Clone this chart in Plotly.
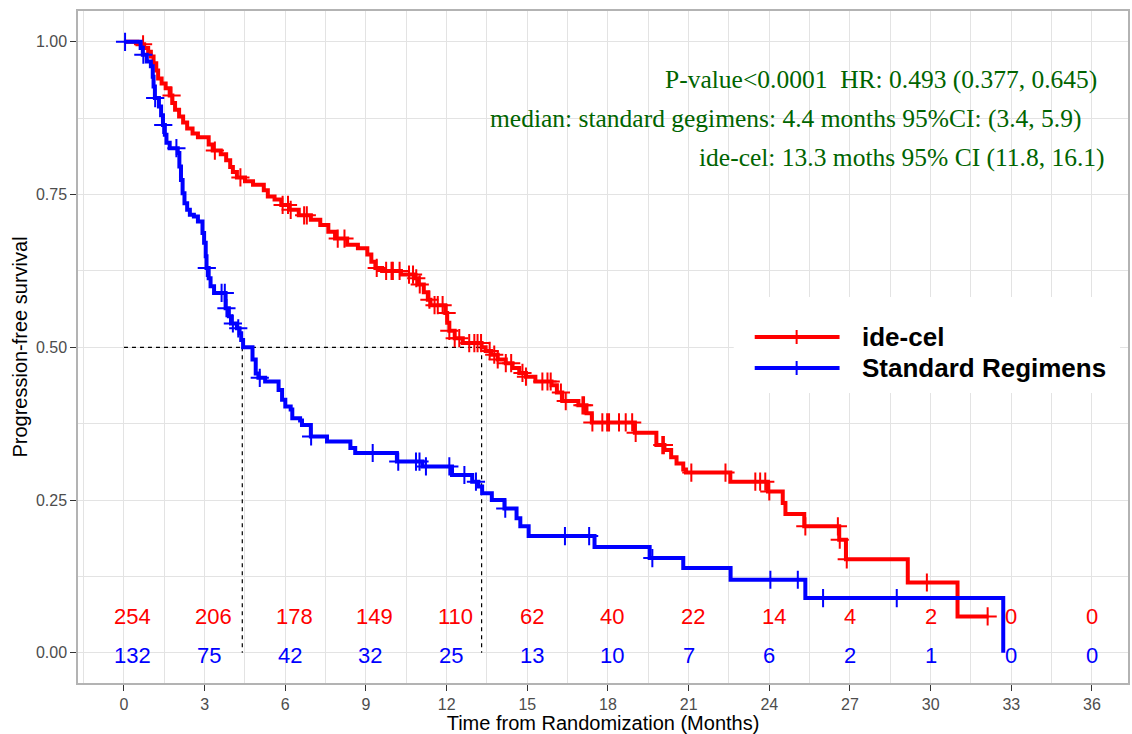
import numpy as np
import plotly.graph_objects as go

W, H = 1132, 734
ML, MR, MT, MB = 78, 2, 11, 51
X_RANGE = [-1.71, 37.34]
Y_RANGE = [-0.0495, 1.0505]

# ---------------- data ----------------
ide_time = [0, 0.5, 0.75, 0.9, 1.0, 1.1, 1.2, 1.27, 1.4, 1.55, 1.7, 1.8, 1.9, 2.05, 2.2, 2.35,
            2.55, 2.75, 3.15, 3.3, 3.6, 3.8, 3.95, 4.05, 4.2, 4.5, 4.8, 5.2, 5.35, 5.6, 5.85,
            6.15, 6.5, 6.95, 7.3, 7.6, 7.85, 8.3, 8.7, 9.05, 9.2, 9.35, 9.6, 10.3, 10.8, 10.95,
            11.15, 11.3, 11.4, 11.95, 12.02, 12.1, 12.3, 12.6, 13.3, 13.45, 13.65, 13.9, 14.2,
            14.45, 14.7, 14.95, 15.3, 15.9, 16.1, 16.3, 16.9, 17.2, 17.4, 19.0, 19.8, 20.1,
            20.35, 20.55, 20.8, 20.9, 22.55, 23.95, 24.5, 24.6, 25.3, 26.6, 26.85, 29.15,
            31.0, 32.15]
ide_surv = [1.0, 0.996, 0.99, 0.984, 0.976, 0.965, 0.953, 0.94, 0.932, 0.924, 0.912, 0.9, 0.889,
            0.878, 0.868, 0.858, 0.85, 0.844, 0.832, 0.822, 0.816, 0.806, 0.795, 0.787, 0.778,
            0.772, 0.766, 0.757, 0.747, 0.742, 0.733, 0.725, 0.716, 0.709, 0.7, 0.689, 0.678,
            0.668, 0.662, 0.652, 0.64, 0.63, 0.625, 0.619, 0.613, 0.603, 0.59, 0.578, 0.569,
            0.556, 0.54, 0.527, 0.515, 0.507, 0.5, 0.494, 0.488, 0.48, 0.474, 0.466, 0.458,
            0.452, 0.444, 0.438, 0.426, 0.412, 0.405, 0.392, 0.377, 0.36, 0.34, 0.332, 0.32,
            0.31, 0.3, 0.295, 0.28, 0.264, 0.245, 0.227, 0.207, 0.185, 0.153, 0.115, 0.0594,
            0.0594]
ide_cens = [0.71, 1.77, 3.38, 4.33, 5.9, 6.1, 6.2, 6.7, 6.8, 7.95, 8.2, 9.4, 9.75, 9.95, 10.0,
            10.25, 10.6, 10.75, 10.87, 11.0, 11.36, 11.55, 11.67, 11.85, 12.0, 12.1, 12.3, 12.47,
            12.84, 13.03, 13.15, 13.28, 13.6, 13.77, 13.9, 14.2, 14.4, 14.82, 14.95, 15.56,
            15.75, 15.87, 16.25, 16.43, 17.05, 17.11, 17.42, 17.79, 17.97, 18.04, 18.41, 18.66,
            18.9, 19.03, 20.02, 20.08, 21.1, 22.37, 23.48, 23.66, 23.85, 24.0, 25.34, 26.55,
            26.62, 26.88, 29.86, 32.12]

std_time = [0, 0.62, 0.7, 0.85, 1.0, 1.07, 1.1, 1.15, 1.3, 1.38, 1.45, 1.52, 1.58, 1.7, 2.0,
            2.06, 2.12, 2.18, 2.25, 2.35, 2.45, 2.6, 2.75, 2.92, 2.98, 3.04, 3.07, 3.15, 3.22,
            3.35, 3.78, 3.9, 3.98, 4.2, 4.3, 4.36, 4.43, 4.78, 4.9, 5.0, 5.25, 5.75, 5.88, 6.0,
            6.2, 6.26, 6.55, 6.62, 6.95, 7.55, 8.42, 8.6, 10.15, 11.1, 12.2, 12.95, 13.18,
            13.32, 13.68, 14.15, 14.6, 14.74, 15.05, 17.5, 19.55, 20.8, 22.56, 25.34, 32.7]
std_surv = [1.0, 0.99, 0.979, 0.968, 0.96, 0.943, 0.927, 0.908, 0.894, 0.88, 0.864, 0.848, 0.835,
            0.826, 0.818, 0.796, 0.774, 0.752, 0.736, 0.725, 0.717, 0.714, 0.706, 0.687, 0.671,
            0.649, 0.63, 0.613, 0.6, 0.589, 0.564, 0.551, 0.539, 0.531, 0.523, 0.512, 0.5, 0.48,
            0.457, 0.45, 0.444, 0.43, 0.414, 0.403, 0.398, 0.384, 0.38, 0.373, 0.354, 0.346,
            0.335, 0.327, 0.313, 0.305, 0.291, 0.28, 0.272, 0.261, 0.25, 0.236, 0.22, 0.207,
            0.191, 0.173, 0.155, 0.1386, 0.1195, 0.0895, 0.0]
std_cens = [0.04, 0.72, 1.16, 1.46, 1.95, 3.08, 3.63, 3.75, 3.81, 4.05, 4.25, 5.05, 6.96, 9.25,
            10.2, 10.86, 10.99, 11.23, 12.1, 12.66, 13.09, 14.18, 16.4, 17.3, 19.65, 24.04,
            25.06, 26.0, 28.74]

risk_times = [0, 3, 6, 9, 12, 15, 18, 21, 24, 27, 30, 33, 36]
ide_risk = [254, 206, 178, 149, 110, 62, 40, 22, 14, 4, 2, 0, 0]
std_risk = [132, 75, 42, 32, 25, 13, 10, 7, 6, 2, 1, 0, 0]

medians = [4.4, 13.3]
median_level = 0.5

series_names = ["ide-cel", "Standard Regimens"]
series_colors = ["#FF0000", "#0000FF"]

stat_lines = [
    "P-value<0.0001  HR: 0.493 (0.377, 0.645)",
    "median: standard gegimens: 4.4 months 95%CI: (3.4, 5.9)",
    "ide-cel: 13.3 moths 95% CI (11.8, 16.1)",
]

# ---------------- helpers ----------------
def surv_at(times, survs, t):
    times = np.asarray(times)
    survs = np.asarray(survs)
    idx = np.searchsorted(times, t, side="right") - 1
    return survs[idx]

PW = W - ML - MR
PH = H - MT - MB
def px_x(px):
    return (px - ML) / PW
def px_y(py):
    return (H - MB - py) / PH

SANS = "Liberation Sans, Arial, sans-serif"
SERIF = "Liberation Serif, Times New Roman, serif"

fig = go.Figure()

# median reference lines
mx = [0, max(medians), None]
my = [median_level, median_level, None]
for m in medians:
    mx += [m, m, None]
    my += [median_level, 0, None]
fig.add_trace(go.Scatter(x=mx, y=my, mode="lines", showlegend=False, hoverinfo="skip",
                         line=dict(color="black", width=1.2, dash="4px,4px")))

curves = [(ide_time, ide_surv, ide_cens), (std_time, std_surv, std_cens)]
for (tt, ss, cc), name, col in zip(curves, series_names, series_colors):
    fig.add_trace(go.Scatter(x=tt, y=ss, mode="lines", name=name, showlegend=False,
                             line=dict(color=col, width=4, shape="hv")))
    fig.add_trace(go.Scatter(x=cc, y=surv_at(tt, ss, cc), mode="markers", showlegend=False,
                             marker=dict(symbol="cross-thin", size=13, color=col,
                                         line=dict(color=col, width=2))))

annotations = []
# numbers at risk
for row_y, counts, col in [(0.06, ide_risk, series_colors[0]), (-0.005, std_risk, series_colors[1])]:
    for t, n in zip(risk_times, counts):
        s = str(n)
        annotations.append(dict(x=t, y=row_y, xref="x", yref="y", text=s, showarrow=False,
                                xanchor="center", yanchor="middle", xshift=4.5 * (len(s) - 1),
                                font=dict(family=SANS, size=22, color=col)))

# statistics text
stat_right = [1101, 1085, 1109]
stat_y = [80, 119, 157]
for txt, rx, yy in zip(stat_lines, stat_right, stat_y):
    annotations.append(dict(x=px_x(rx), y=px_y(yy), xref="paper", yref="paper", text=txt,
                            showarrow=False, xanchor="right", yanchor="middle",
                            font=dict(family=SERIF, size=25.5, color="#006400")))

# manual legend
shapes = [dict(type="rect", xref="paper", yref="paper", x0=px_x(735), x1=px_x(1122),
               y0=px_y(393), y1=px_y(297), fillcolor="white", line=dict(width=0), layer="above")]
for i, (name, col) in enumerate(zip(series_names, series_colors)):
    yc = 337 + 31 * i
    shapes.append(dict(type="line", xref="paper", yref="paper", x0=px_x(756), x1=px_x(841),
                       y0=px_y(yc), y1=px_y(yc), line=dict(color=col, width=4), layer="above"))
    shapes.append(dict(type="line", xref="paper", yref="paper", x0=px_x(798), x1=px_x(798),
                       y0=px_y(yc - 7), y1=px_y(yc + 7), line=dict(color=col, width=2), layer="above"))
    annotations.append(dict(x=px_x(861), y=px_y(yc), xref="paper", yref="paper",
                            text="<b>%s</b>" % name, showarrow=False, xanchor="left",
                            yanchor="middle", font=dict(family=SANS, size=26, color="black")))

grid_col = "#E3E3E3"
fig.update_layout(
    width=W, height=H, margin=dict(l=ML, r=MR, t=MT, b=MB),
    paper_bgcolor="white", plot_bgcolor="white",
    showlegend=False,
    annotations=annotations, shapes=shapes,
    xaxis=dict(range=X_RANGE, tickmode="linear", tick0=0, dtick=3,
               showgrid=True, gridcolor=grid_col, gridwidth=1.3, zeroline=False,
               minor=dict(tickmode="linear", tick0=0, dtick=1.5, showgrid=True,
                          gridcolor=grid_col, gridwidth=1.3, ticks=""),
               showline=True, mirror=True, linecolor="#B3B3B3", linewidth=1.5,
               ticks="outside", ticklen=6, tickwidth=1.3, tickcolor="#333333",
               tickfont=dict(family=SANS, size=16, color="#4D4D4D"),
               title=dict(text="Time from Randomization (Months)", standoff=3,
                          font=dict(family=SANS, size=20, color="black"))),
    yaxis=dict(range=Y_RANGE, tickmode="linear", tick0=0, dtick=0.25, tickformat=".2f",
               showgrid=True, gridcolor=grid_col, gridwidth=1.3, zeroline=False,
               minor=dict(tickmode="linear", tick0=0, dtick=0.125, showgrid=True,
                          gridcolor=grid_col, gridwidth=1.3, ticks=""),
               showline=True, mirror=True, linecolor="#B3B3B3", linewidth=1.5,
               ticks="outside", ticklen=6, tickwidth=1.3, tickcolor="#333333",
               tickfont=dict(family=SANS, size=16, color="#4D4D4D"),
               title=dict(text="Progression-free survival", standoff=3,
                          font=dict(family=SANS, size=20, color="black"))),
)

fig.write_html("out.html")
